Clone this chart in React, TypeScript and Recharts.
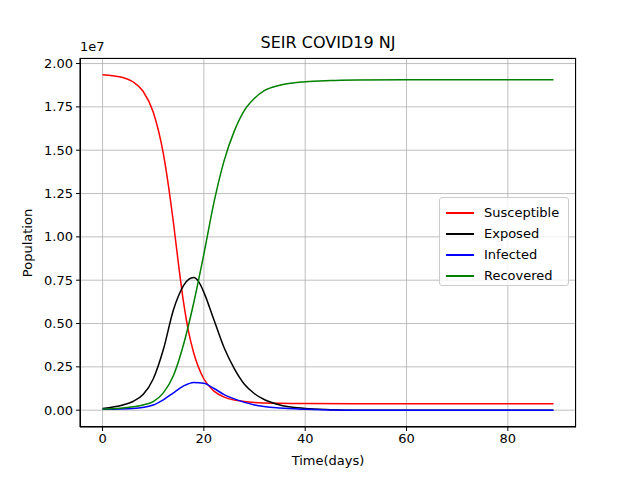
import React from 'react';
import { LineChart, Line, XAxis, YAxis, CartesianGrid } from 'recharts';

const susceptible = [[0,1.935],[2,1.93],[4,1.92],[6,1.895],[8,1.84],[10,1.72],[12,1.48],[14,1.08],[15,0.84],[16,0.62],[17,0.45],[18,0.33],[20,0.18],[22,0.11],[24,0.075],[26,0.058],[28,0.05],[30,0.045],[35,0.04],[40,0.038],[50,0.037],[89,0.037]];
const exposed = [[0,0.01],[4,0.03],[6,0.05],[8,0.09],[10,0.18],[12,0.35],[14,0.58],[15,0.66],[16,0.72],[17,0.755],[18,0.765],[19,0.74],[20,0.68],[22,0.52],[24,0.36],[26,0.24],[28,0.15],[30,0.095],[32,0.06],[35,0.03],[40,0.01],[45,0.003],[50,0],[89,0]];
const infected = [[0,0.005],[6,0.01],[10,0.03],[12,0.06],[14,0.1],[16,0.14],[18,0.16],[20,0.155],[22,0.125],[24,0.09],[26,0.065],[28,0.045],[30,0.03],[35,0.012],[40,0.005],[50,0],[89,0]];
const recovered = [[0,0.005],[6,0.02],[8,0.03],[10,0.05],[12,0.1],[14,0.2],[16,0.38],[18,0.62],[20,0.9],[22,1.2],[24,1.44],[26,1.61],[28,1.73],[30,1.8],[32,1.845],[35,1.875],[40,1.895],[45,1.902],[50,1.905],[60,1.907],[89,1.907]];
const xTicks = [0, 20, 40, 60, 80];
const yTicks = [0, 0.25, 0.5, 0.75, 1.0, 1.25, 1.5, 1.75, 2.0];
const series = [
  { key: 's', name: 'Susceptible', color: '#ff0000', pts: susceptible },
  { key: 'e', name: 'Exposed', color: '#000000', pts: exposed },
  { key: 'i', name: 'Infected', color: '#0000ff', pts: infected },
  { key: 'r', name: 'Recovered', color: '#008000', pts: recovered },
];

const xs = Array.from(new Set(series.flatMap(s => s.pts.map(p => p[0])))).sort((a, b) => a - b);
const table = xs.map(x => {
  const row: any = { x };
  series.forEach(s => { const p = s.pts.find(q => q[0] === x); row[s.key] = p ? p[1] : null; });
  return row;
});

const font = 'DejaVu Sans, sans-serif';

export default function App() {
  return (
    <div style={{ position: 'absolute', left: 0, top: 0, width: 640, height: 480, background: '#fff', fontFamily: font }}>
      <LineChart width={640} height={480} data={table} margin={{ top: 58, right: 64, bottom: 0, left: 0 }}>
        <CartesianGrid stroke="#b0b0b0" strokeWidth={0.8} />
        <XAxis type="number" dataKey="x" domain={[-4.45, 93.45]} ticks={xTicks} height={53} allowDataOverflow
          tick={{ fontSize: 13, fill: '#000', fontFamily: font }} tickSize={4} stroke="#000" tickMargin={3} />
        <YAxis type="number" domain={[-0.097, 2.032]} ticks={yTicks} width={80} allowDataOverflow
          tickFormatter={(v: number) => v.toFixed(2)} tick={{ fontSize: 13, fill: '#000', fontFamily: font }} tickSize={4} stroke="#000" tickMargin={3} />
        {series.map(s => (
          <Line key={s.key} dataKey={s.key} type="monotone" stroke={s.color} connectNulls
            strokeWidth={1.5} dot={false} isAnimationActive={false} />
        ))}
      </LineChart>
      <div style={{ position: 'absolute', left: 80, top: 58, width: 496, height: 369, border: '1px solid #000', boxSizing: 'border-box', pointerEvents: 'none' }} />
      <div style={{ position: 'absolute', left: 80, width: 496, top: 33, textAlign: 'center', fontSize: 16 }}>SEIR COVID19 NJ</div>
      <div style={{ position: 'absolute', left: 80, top: 39, fontSize: 13 }}>1e7</div>
      <div style={{ position: 'absolute', left: 80, width: 496, top: 453, textAlign: 'center', fontSize: 13 }}>Time(days)</div>
      <div style={{ position: 'absolute', left: 27, top: 243, fontSize: 13, transform: 'translate(-50%,-50%) rotate(-90deg)' }}>Population</div>
      <div style={{ position: 'absolute', left: 439, top: 197, width: 130, height: 89, border: '1px solid #ccc', borderRadius: 3, background: 'rgba(255,255,255,0.8)', boxSizing: 'border-box', padding: '4px 0 0 6px', fontSize: 13 }}>
        {series.map(s => (
          <div key={s.key} style={{ display: 'flex', alignItems: 'center', height: 21 }}>
            <div style={{ width: 28, height: 2, background: s.color, marginRight: 10 }} />
            {s.name}
          </div>
        ))}
      </div>
    </div>
  );
}
